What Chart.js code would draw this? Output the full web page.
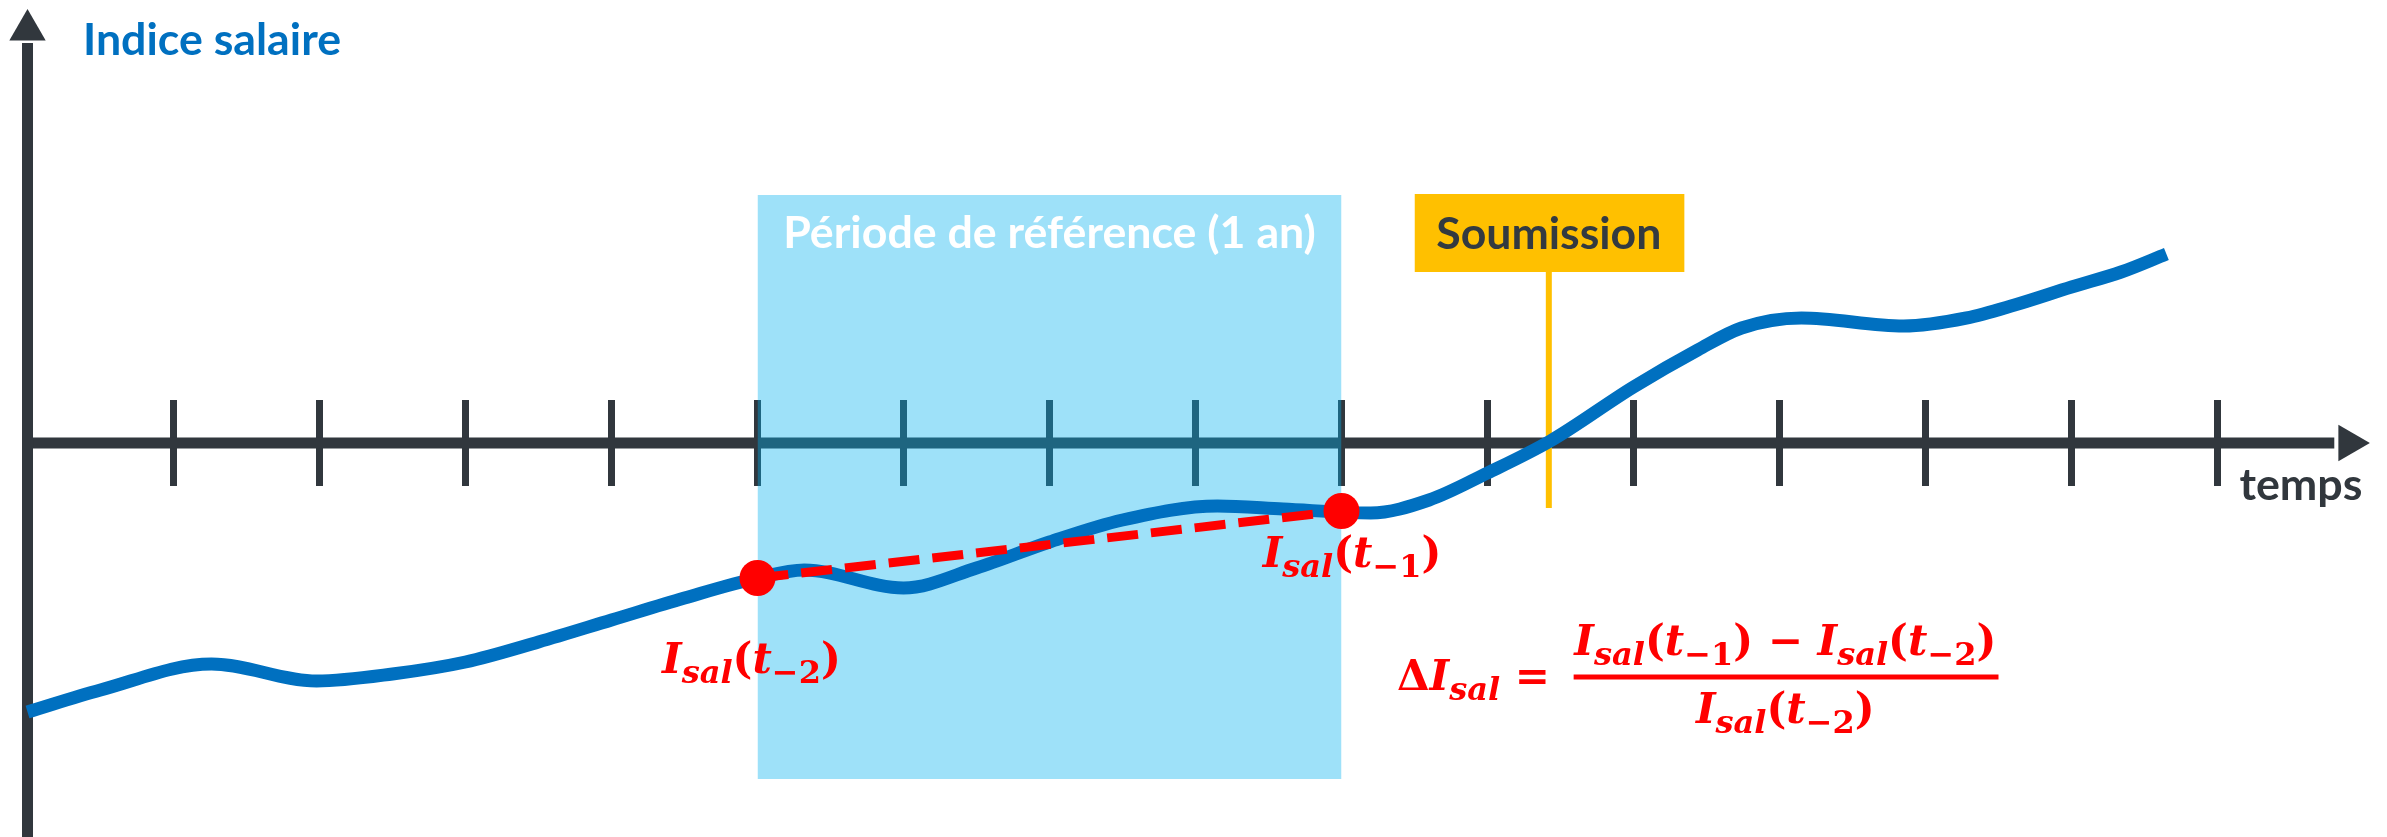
<!DOCTYPE html>
<html>
<head>
<meta charset="utf-8">
<title>Indice salaire</title>
<script src="https://cdn.jsdelivr.net/npm/chart.js@4.4.1/dist/chart.umd.min.js"></script>
<style>
  html, body { margin: 0; padding: 0; background: #ffffff; }
  canvas { display: block; }
</style>
</head>
<body>
<canvas id="chart" width="2387" height="837"></canvas>
<script>
// Salary index curve (time in years, index relative to the time axis)
const timePoints = [0, 0.5, 1.26, 1.98, 2.5, 3, 3.5, 4, 4.5, 5, 5.32, 6.0, 6.5, 7, 7.5, 8.15, 8.6, 9.2, 9.6, 10, 10.43, 11, 11.44, 11.74, 12.15, 12.85, 13.28, 13.61, 14, 14.34, 14.65];
const salaryIndex = [-2.69, -2.47, -2.21, -2.38, -2.31, -2.19, -1.99, -1.77, -1.55, -1.35, -1.27, -1.45, -1.25, -0.99, -0.77, -0.63, -0.66, -0.70, -0.57, -0.30, 0.02, 0.56, 0.93, 1.15, 1.25, 1.17, 1.25, 1.38, 1.56, 1.71, 1.89];

// reference period (t-2 -> t-1) and the two sampled values
const refTimes = [5, 9];
const refValues = [-1.35, -0.68];

const submissionTime = 10.42;
const axisTicks = [1, 2, 3, 4, 5, 6, 7, 8, 9, 10, 11, 12, 13, 14, 15];

// scale window
const X_MIN = -0.1884, X_MAX = 16.161;
const Y_MIN = -3.94, Y_MAX = 4.43;

const AXIS = '#31373D';
const BLUE = '#0070C0';
const RED = '#FF0000';
const GOLD = '#FFC000';

// band / box extents (data units)
const bandTop = 2.48, bandBottom = -3.36;
const boxLeft = 9.50, boxRight = 11.35, boxTop = 2.49, boxBottom = 1.71;
const markerBottom = -0.65;

function fitText(ctx, text, x, y, width, align, color) {
  ctx.font = 'bold 40px Lato';
  const w = ctx.measureText(text).width;
  ctx.font = 'bold ' + (40 * width / w).toFixed(1) + 'px Lato';
  ctx.textAlign = align;
  ctx.textBaseline = 'alphabetic';
  ctx.fillStyle = color;
  ctx.fillText(text, x, y);
}

// math text: kind = [i|u][m|s] italic/upright, main/subscript
const M = 42, S = 32, SUB = 10;
function mathText(ctx, parts, x, y, draw) {
  let cx = x;
  ctx.textAlign = 'left';
  ctx.textBaseline = 'alphabetic';
  parts.forEach(function (p) {
    const italic = p[1][0] === 'i';
    const sub = p[1][1] === 's';
    ctx.font = (italic ? 'italic ' : '') + 'bold ' + (sub ? S : M) + "px 'DejaVu Serif'";
    if (draw) ctx.fillText(p[0], cx, y + (sub ? SUB : 0));
    cx += ctx.measureText(p[0]).width;
  });
  return cx - x;
}
function isal(n) {
  return [['I', 'im'], ['sal', 'is'], ['(', 'um'], ['t', 'im'], ['\u2212' + n, 'us'], [')', 'um']];
}

const labelsPlugin = {
  id: 'labels',
  afterDatasetsDraw(chart) {
    const ctx = chart.ctx;
    const px = v => chart.scales.x.getPixelForValue(v);
    const py = v => chart.scales.y.getPixelForValue(v);
    ctx.save();

    fitText(ctx, 'Indice salaire', px(0.38), py(3.88), 258, 'left', BLUE);
    fitText(ctx, 'Période de référence (1 an)', px(7), py(1.95), 533, 'center', '#FFFFFF');
    fitText(ctx, 'Soumission', px(submissionTime), py(1.94), 225, 'center', '#333A40');
    fitText(ctx, 'temps', px(15.15), py(-0.57), 123, 'left', AXIS);

    ctx.fillStyle = RED;
    mathText(ctx, isal('2'), px(4.346), py(-2.30), true);
    mathText(ctx, isal('1'), px(8.46), py(-1.24), true);

    // delta formula
    mathText(ctx, [['\u0394', 'um'], ['I', 'im'], ['sal', 'is'], [' = ', 'um']], px(9.38), py(-2.47), true);
    const num = isal('1').concat([[' \u2212 ', 'um']], isal('2'));
    const den = isal('2');
    const cx = px(12.04);
    let w = mathText(ctx, num, 0, 0, false);
    mathText(ctx, num, cx - w / 2, py(-2.12), true);
    w = mathText(ctx, den, 0, 0, false);
    mathText(ctx, den, cx - w / 2, py(-2.80), true);
    ctx.fillRect(px(10.59), py(-2.34) - 2.5, px(13.50) - px(10.59), 5);

    ctx.restore();
  }
};

const curveData = timePoints.map((t, i) => ({ x: t, y: salaryIndex[i] }));
const refData = refTimes.map((t, i) => ({ x: t, y: refValues[i] }));

new Chart(document.getElementById('chart'), {
  type: 'line',
  data: {
    datasets: [
      // axes
      {
        data: [{ x: 0, y: Y_MIN - 0.1 }, { x: 0, y: 4.0 }],
        borderColor: AXIS, borderWidth: 11, pointRadius: 0, order: 10
      },
      {
        data: [{ x: 0, y: 0 }, { x: 15.8, y: 0 }],
        borderColor: AXIS, borderWidth: 11, pointRadius: 0, order: 10
      },
      {
        data: axisTicks.map(t => ({ x: t, y: 0 })),
        showLine: false, pointStyle: 'line', pointRotation: 90, pointRadius: 43,
        pointBorderWidth: 7, pointBorderColor: AXIS, order: 10
      },
      {
        data: [{ x: 0, y: 4.13 }, { x: 15.90, y: 0 }],
        showLine: false, pointStyle: 'triangle', pointRotation: [0, 90], pointRadius: 21,
        pointBackgroundColor: AXIS, pointBorderWidth: 0, order: 10
      },
      // reference period band
      {
        data: [{ x: refTimes[0], y: bandTop }, { x: refTimes[1], y: bandTop }],
        borderWidth: 0, pointRadius: 0, fill: { value: bandBottom },
        backgroundColor: 'rgba(0, 176, 240, 0.38)', order: 9
      },
      // submission box and marker
      {
        data: [{ x: boxLeft, y: boxTop }, { x: boxRight, y: boxTop }],
        borderWidth: 0, pointRadius: 0, fill: { value: boxBottom },
        backgroundColor: GOLD, order: 8
      },
      {
        data: [{ x: submissionTime, y: boxBottom }, { x: submissionTime, y: markerBottom }],
        borderColor: GOLD, borderWidth: 6, pointRadius: 0, order: 8
      },
      // salary index
      {
        data: curveData,
        borderColor: BLUE, borderWidth: 13, pointRadius: 0,
        cubicInterpolationMode: 'monotone', order: 7
      },
      // linear change over the reference period
      {
        data: refData,
        borderColor: RED, borderWidth: 9, borderDash: [31, 13], pointRadius: 0, order: 6
      },
      {
        data: refData,
        showLine: false, pointRadius: 18, pointBackgroundColor: RED, pointBorderWidth: 0, order: 5
      }
    ]
  },
  options: {
    responsive: false,
    animation: false,
    events: [],
    layout: { padding: 0, autoPadding: false },
    plugins: { legend: { display: false }, tooltip: { enabled: false } },
    scales: {
      x: { type: 'linear', min: X_MIN, max: X_MAX, display: false },
      y: { type: 'linear', min: Y_MIN, max: Y_MAX, display: false }
    }
  },
  plugins: [labelsPlugin]
});
</script>
</body>
</html>
